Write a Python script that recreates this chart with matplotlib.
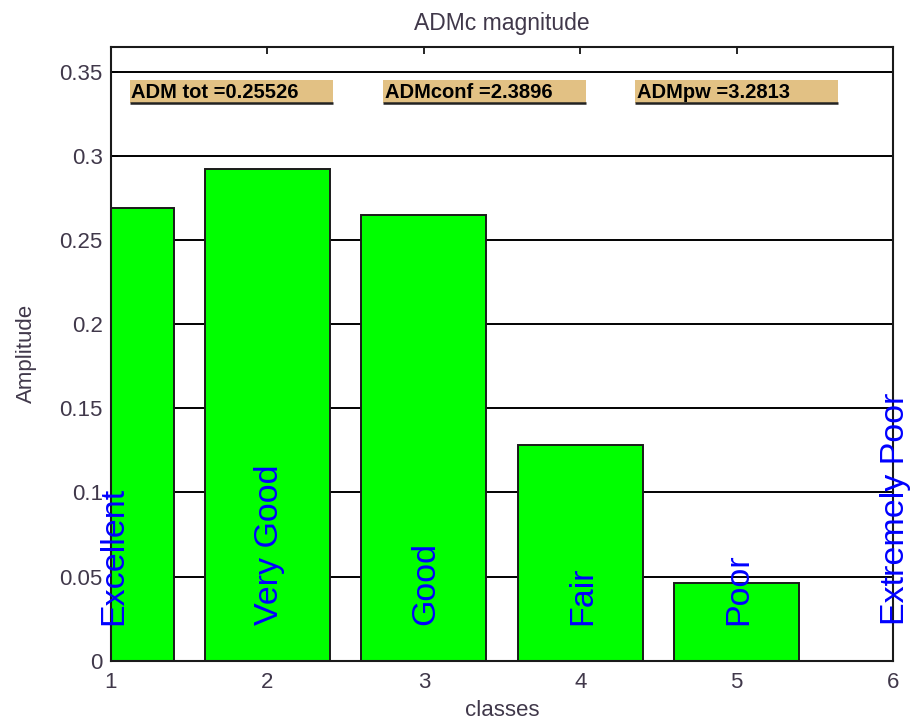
import matplotlib
matplotlib.use("Agg")
import matplotlib.pyplot as plt
from matplotlib.patches import Rectangle

plt.rcParams['font.family'] = ['Liberation Sans', 'DejaVu Sans']

# Class indices, their quality names and ADMc magnitudes
classes = [1, 2, 3, 4, 5, 6]
class_names = ["Excellent", "Very Good", "Good", "Fair", "Poor", "Extremely Poor"]
amplitude = [0.2692, 0.2921, 0.2648, 0.1280, 0.0460, 0.0]

# Summary indicators shown in the header boxes
summary_labels = ["ADM tot =0.25526", "ADMconf =2.3896", "ADMpw =3.2813"]

yticks = [0, 0.05, 0.1, 0.15, 0.2, 0.25, 0.3, 0.35]
ytick_labels = ["0", "0.05", "0.1", "0.15", "0.2", "0.25", "0.3", "0.35"]

text_color = "#40384a"

fig = plt.figure(figsize=(9.15, 7.24), dpi=100)
ax = fig.add_axes([111 / 915, 1 - 660.7 / 724, (893 - 111) / 915, (660.7 - 46.5) / 724])

# horizontal grid behind the bars
for y in yticks[1:]:
    ax.axhline(y, color="black", lw=1.4, zorder=0.5)

ax.bar(classes, amplitude, width=0.8, color="#00ff00", edgecolor="#1a1a1a",
       linewidth=1.4, zorder=2)

for x, name in zip(classes, class_names):
    ax.text(x + 0.015, 0.021, name, rotation=90, ha="center", va="bottom",
            color="#0000ff", fontsize=24.5, zorder=5, clip_on=False)

ax.set_xlim(1, 6)
ax.set_ylim(0, 0.365)
ax.set_xticks(classes)
ax.set_yticks(yticks)
ax.set_yticklabels(ytick_labels)
ax.tick_params(axis="both", direction="in", length=5, width=1.2, colors="black",
               labelcolor=text_color, labelsize=16, top=True, right=False)
ax.tick_params(axis="x", pad=8)
ax.tick_params(axis="y", pad=6)
for s in ax.spines.values():
    s.set_linewidth(1.5)
    s.set_color("#1a1a1a")

ax.set_title("ADMc magnitude", color=text_color, fontsize=16.5, pad=12)
ax.set_xlabel("classes", color=text_color, fontsize=16, labelpad=5)
ax.set_ylabel("Amplitude", color=text_color, fontsize=16, labelpad=16)

# header boxes with summary values
box_x = [0.024, 0.348, 0.670]
box_w, box_y, box_h = 0.26, 0.908, 0.038
for bx, label in zip(box_x, summary_labels):
    ax.add_patch(Rectangle((bx, box_y), box_w, box_h, transform=ax.transAxes,
                           facecolor="#e2c184", edgecolor="none", zorder=3))
    ax.plot([bx, bx + box_w], [box_y, box_y], transform=ax.transAxes,
            color="#222222", lw=1.8, zorder=4, solid_capstyle="butt")
    ax.text(bx + 0.002, box_y + box_h / 2 - 0.002, label, transform=ax.transAxes,
            ha="left", va="center", fontsize=14.5, fontweight="bold",
            color="black", zorder=5)

fig.savefig("out.png", dpi=100)
